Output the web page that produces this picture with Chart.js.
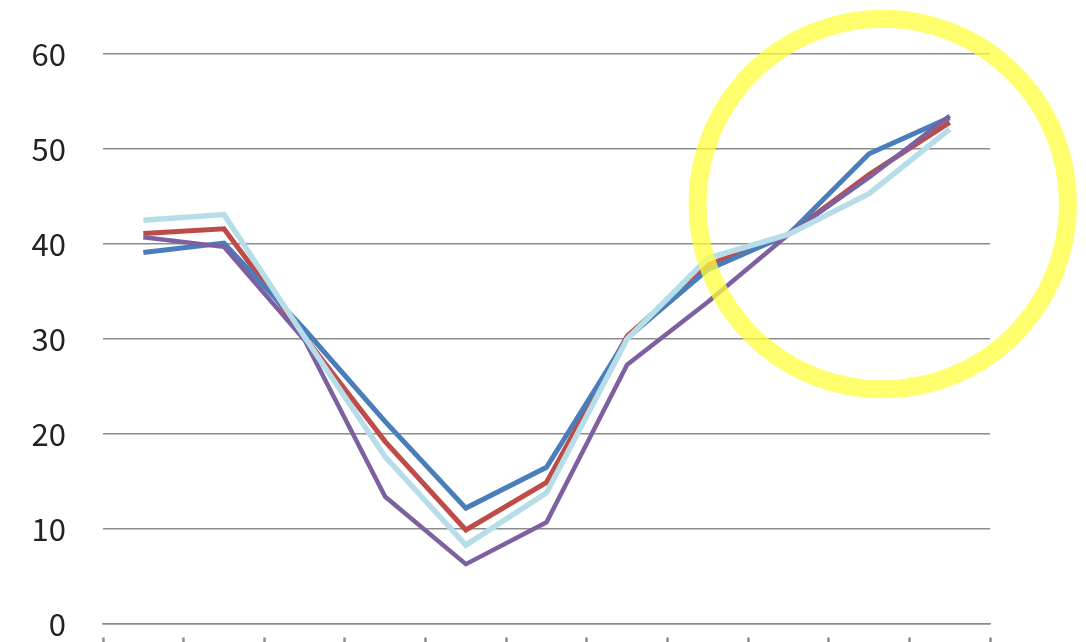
<!DOCTYPE html>
<html>
<head>
<meta charset="utf-8">
<script src="https://cdn.jsdelivr.net/npm/chart.js@4/dist/chart.umd.min.js"></script>
<style>
  html, body { margin: 0; padding: 0; background: #ffffff; overflow: hidden; }
  canvas { display: block; }
</style>
</head>
<body>
<canvas id="chart" width="1086" height="642"></canvas>
<script>
// categories (no labels shown on the axis)
const categories = ['1', '2', '3', '4', '5', '6', '7', '8', '9', '10', '11'];

// series values
const blueSeries = [39.1, 40.1, 31.0, 21.3, 12.2, 16.5, 30.1, 37.3, 41.0, 49.5, 53.3];
const redSeries = [41.1, 41.6, 30.2, 19.2, 9.9, 14.9, 30.3, 37.8, 41.0, 47.3, 52.8];
const lightBlueSeries = [42.5, 43.1, 30.2, 17.6, 8.3, 13.8, 30.0, 38.5, 41.0, 45.3, 52.1];
const purpleSeries = [40.7, 39.7, 29.9, 13.4, 6.3, 10.7, 27.3, 33.9, 41.0, 47.0, 53.5];

// y axis
const yTicks = [0, 10, 20, 30, 40, 50, 60];

// highlighted region (category index, value, radius in value units)
const highlight = { x: 9.17, y: 44.2, r: 19.5 };

const highlightPlugin = {
    id: 'highlightRing',
    afterDatasetsDraw(chart) {
        const { ctx, scales } = chart;
        const cx = scales.x.getPixelForValue(highlight.x);
        const cy = scales.y.getPixelForValue(highlight.y);
        const r = scales.y.getPixelForValue(0) - scales.y.getPixelForValue(highlight.r);
        ctx.save();
        ctx.beginPath();
        ctx.arc(cx, cy, r, 0, Math.PI * 2);
        ctx.lineWidth = 18;
        ctx.strokeStyle = 'rgba(255, 255, 60, 0.75)';
        ctx.stroke();
        ctx.restore();
    }
};

const ctx = document.getElementById('chart').getContext('2d');
new Chart(ctx, {
    type: 'line',
    data: {
        labels: categories,
        datasets: [
            { data: lightBlueSeries, borderColor: '#b7dde8', borderWidth: 5.5 },
            { data: purpleSeries, borderColor: '#7d60a0', borderWidth: 4.5 },
            { data: blueSeries, borderColor: '#4a7ebb', borderWidth: 5 },
            { data: redSeries, borderColor: '#be4b48', borderWidth: 5 },
        ].map((d) => ({ ...d, pointRadius: 0, tension: 0, fill: false })),
    },
    options: {
        responsive: false,
        animation: false,
        layout: { padding: { top: 54, right: 96, bottom: 0, left: 30 } },
        plugins: {
            legend: { display: false },
            tooltip: { enabled: false },
        },
        scales: {
            x: {
                offset: true,
                afterFit: (axis) => { axis.height = 18; },
                border: { display: true, color: '#8c8c8c', width: 1.5 },
                grid: {
                    offset: true, drawOnChartArea: false, drawTicks: true, tickLength: 18,
                    tickColor: '#8c8c8c', tickWidth: 2.5, tickBorderDash: [6, 13], tickBorderDashOffset: 6,
                },
                ticks: { display: false },
            },
            y: {
                min: 0,
                max: 60,
                afterBuildTicks: (axis) => { axis.ticks = yTicks.map((v) => ({ value: v })); },
                afterFit: (axis) => { axis.width = 73; },
                border: { display: false },
                grid: { color: '#8c8c8c', lineWidth: 1.5, drawTicks: true, tickLength: 37, tickColor: 'rgba(0,0,0,0)' },
                ticks: {
                    padding: 0,
                    color: '#222222',
                    font: { family: '"Noto Sans CJK KR", "Noto Sans", sans-serif', size: 31, lineHeight: 1 },
                },
            },
        },
    },
    plugins: [highlightPlugin],
});
</script>
</body>
</html>
